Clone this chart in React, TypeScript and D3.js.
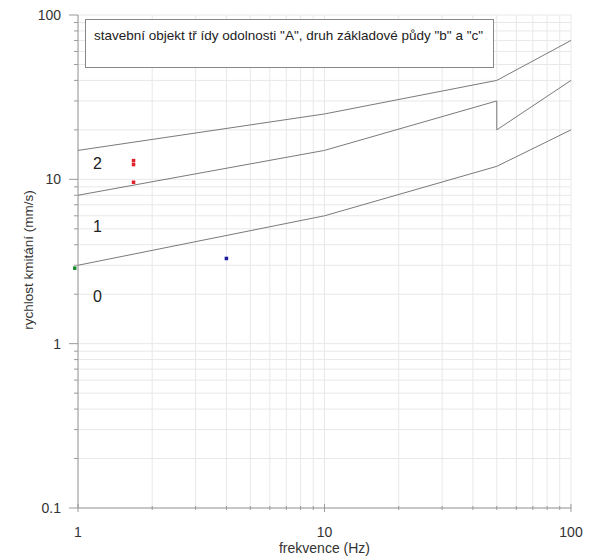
import React, { useEffect, useRef } from 'react';
import * as d3 from 'd3';

// limit curves (frequency Hz -> velocity mm/s)
const limitFreq = [1, 10, 50, 100];
const limit23 = [15, 25, 40, 70];
const limit12Freq = [1, 10, 50, 50, 100];
const limit12 = [8, 15, 30, 20, 40];
const limit01 = [3, 6, 12, 20];

// measured points
const redFreq = [1.68, 1.68, 1.68];
const redVel = [13.0, 12.3, 9.6];
const blueFreq = [4.0];
const blueVel = [3.3];
const greenFreq = [0.97];
const greenVel = [2.88];

const zoneLabels = ['2', '1', '0'];
const zoneVel = [12.5, 5.2, 1.94];
const xTicks = [1, 10, 100];
const yTicks = [0.1, 1, 10, 100];
const title = 'stavební objekt tř ídy odolnosti "A", druh základové půdy "b" a "c"';

const W = 590;
const H = 559;
const m = { left: 78, right: 19, top: 15, bottom: 51 };

const App = () => {
  const ref = useRef(null);

  useEffect(() => {
    const svg = d3.select(ref.current);
    svg.selectAll('*').remove();
    const font = 'Liberation Sans, Arial, sans-serif';

    const x = d3.scaleLog().domain([1, 100]).range([m.left, W - m.right]);
    const y = d3.scaleLog().domain([0.1, 100]).range([H - m.bottom, m.top]);

    // minor/major grid values
    const xGrid = d3.range(1, 100).filter(v => v < 10 || v % 10 === 0).concat([100]);
    const yGrid = [];
    [0.1, 1, 10].forEach(d => d3.range(1, 10).forEach(k => yGrid.push(+(d * k).toPrecision(3))));
    yGrid.push(100);

    const g = svg.append('g');
    g.selectAll('line.gx').data(xGrid).enter().append('line')
      .attr('x1', d => x(d)).attr('x2', d => x(d))
      .attr('y1', y(0.1)).attr('y2', y(100))
      .attr('stroke', '#e8e8e8').attr('stroke-width', 1);
    g.selectAll('line.gy').data(yGrid).enter().append('line')
      .attr('y1', d => y(d)).attr('y2', d => y(d))
      .attr('x1', x(1)).attr('x2', x(100))
      .attr('stroke', '#e8e8e8').attr('stroke-width', 1);

    // axes
    const axisColor = '#9a9a9a';
    const xAxis = svg.append('g').attr('transform', `translate(0,${y(0.1)})`);
    xAxis.append('line').attr('x1', x(1)).attr('x2', x(100)).attr('stroke', axisColor);
    xAxis.selectAll('line.t').data(xGrid).enter().append('line')
      .attr('x1', d => x(d)).attr('x2', d => x(d))
      .attr('y1', d => (xTicks.includes(d) ? -4 : -2))
      .attr('y2', d => (xTicks.includes(d) ? 4 : 2))
      .attr('stroke', axisColor);
    xAxis.selectAll('text').data(xTicks).enter().append('text')
      .attr('x', d => x(d)).attr('y', 29)
      .attr('text-anchor', 'middle')
      .attr('font-family', font).attr('font-size', 14).attr('fill', '#333')
      .text(d => d3.format('~g')(d));

    const yAxis = svg.append('g').attr('transform', `translate(${x(1)},0)`);
    yAxis.append('line').attr('y1', y(0.1)).attr('y2', y(100)).attr('stroke', axisColor);
    yAxis.selectAll('line.t').data(yGrid).enter().append('line')
      .attr('y1', d => y(d)).attr('y2', d => y(d))
      .attr('x1', d => (yTicks.includes(d) ? -9 : -4)).attr('x2', 0)
      .attr('stroke', axisColor);
    yAxis.selectAll('text').data(yTicks).enter().append('text')
      .attr('x', -17).attr('y', d => y(d)).attr('dy', '0.35em')
      .attr('text-anchor', 'end')
      .attr('font-family', font).attr('font-size', 14).attr('fill', '#333')
      .text(d => d3.format('~g')(d));

    svg.append('text')
      .attr('x', x(10)).attr('y', 553)
      .attr('text-anchor', 'middle')
      .attr('font-family', font).attr('font-size', 14).attr('fill', '#333')
      .text('frekvence (Hz)');
    svg.append('text')
      .attr('transform', `translate(33,260) rotate(-90)`)
      .attr('text-anchor', 'middle')
      .attr('font-family', font).attr('font-size', 13.5).attr('fill', '#333')
      .text('rychlost kmitání (mm/s)');

    // limit lines
    const line = d3.line().x(d => x(d[0])).y(d => y(d[1]));
    const curves = [
      d3.zip(limitFreq, limit23),
      d3.zip(limit12Freq, limit12),
      d3.zip(limitFreq, limit01),
    ];
    svg.selectAll('path.limit').data(curves).enter().append('path')
      .attr('class', 'limit')
      .attr('d', line)
      .attr('fill', 'none')
      .attr('stroke', '#7a7a7a')
      .attr('stroke-width', 1);

    // zone labels
    svg.selectAll('text.zone').data(zoneLabels).enter().append('text')
      .attr('class', 'zone')
      .attr('x', 93).attr('y', (d, i) => y(zoneVel[i])).attr('dy', '0.35em')
      .attr('font-family', font).attr('font-size', 16).attr('fill', '#222')
      .text(d => d);

    // points
    const pts = [
      { f: redFreq, v: redVel, c: '#e0202a' },
      { f: blueFreq, v: blueVel, c: '#1a1aa0' },
      { f: greenFreq, v: greenVel, c: '#1a8a2a' },
    ];
    pts.forEach(p => {
      svg.selectAll(null).data(d3.zip(p.f, p.v)).enter().append('rect')
        .attr('x', d => x(d[0]) - 1.75).attr('y', d => y(d[1]) - 1.75)
        .attr('width', 3.5).attr('height', 3.5)
        .attr('fill', p.c);
    });

    // title box
    svg.append('rect')
      .attr('x', 85.5).attr('y', 19.5).attr('width', 408).attr('height', 48)
      .attr('fill', '#fff').attr('stroke', '#888');
    svg.append('text')
      .attr('x', 94).attr('y', 40)
      .attr('font-family', font).attr('font-size', 13.5).attr('fill', '#222')
      .text(title);
  }, []);

  return (
    <svg ref={ref} width={W} height={H} style={{ position: 'absolute', left: 0, top: 0, background: '#fff' }} />
  );
};

export default App;
